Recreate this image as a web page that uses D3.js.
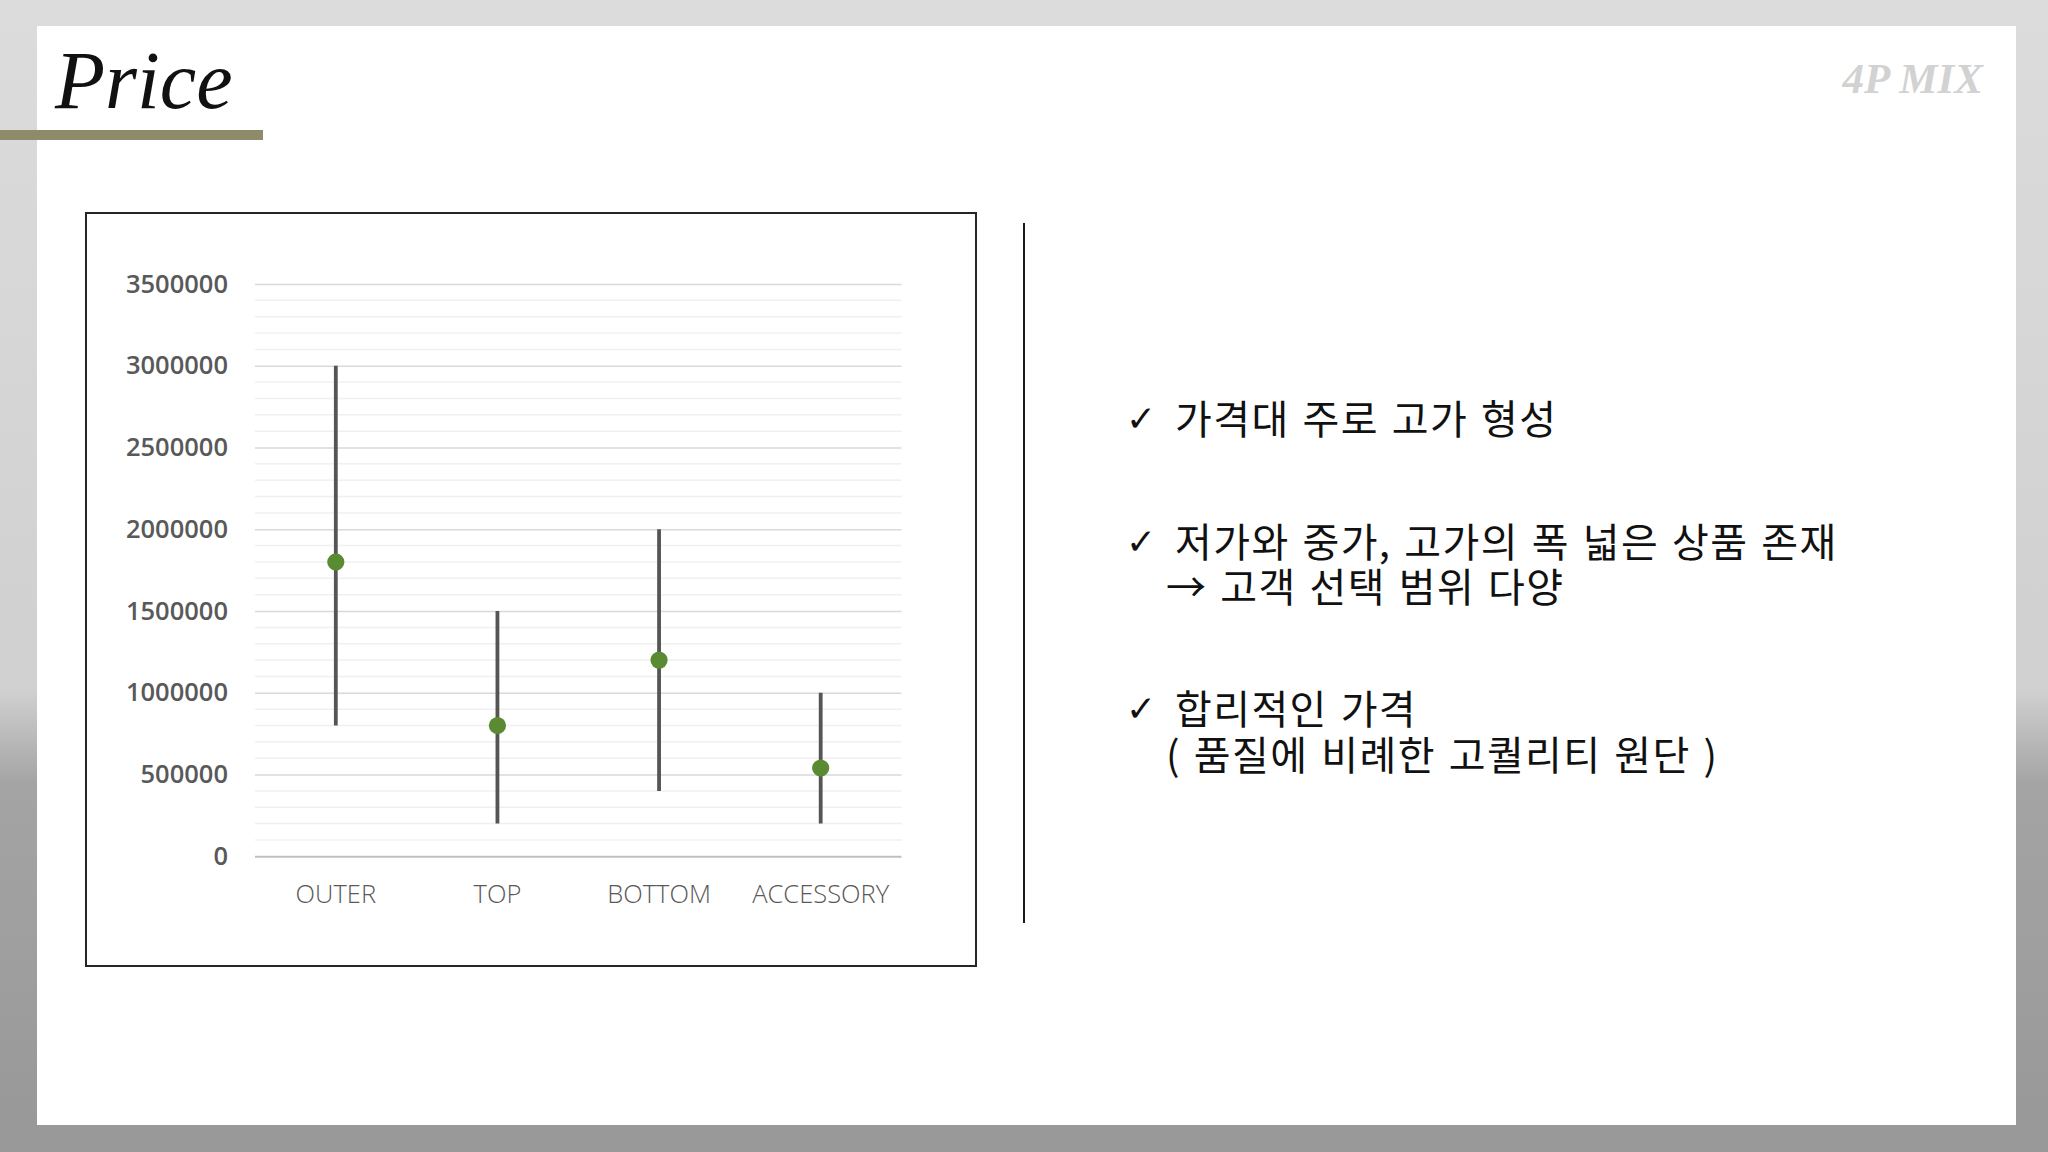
<!DOCTYPE html>
<html>
<head>
<meta charset="utf-8">
<script src="https://cdn.jsdelivr.net/npm/d3@7"></script>
<style>
  html, body { margin: 0; padding: 0; background: #fff; }
  svg { display: block; }
</style>
</head>
<body>
<svg id="chart" width="2048" height="1152"></svg>
<script>
// ---- data ----
const categories = ["OUTER", "TOP", "BOTTOM", "ACCESSORY"];
const highValues = [3000000, 1500000, 2000000, 1000000];
const lowValues  = [800000, 200000, 400000, 200000];
const midValues  = [1800000, 800000, 1200000, 540000];
const yTicks = [0, 500000, 1000000, 1500000, 2000000, 2500000, 3000000, 3500000];
const minorStep = 100000;
const bullets = [
  ["가격대 주로 고가 형성"],
  ["저가와 중가, 고가의 폭 넓은 상품 존재", "→ 고객 선택 범위 다양"],
  ["합리적인 가격", "( 품질에 비례한 고퀄리티 원단 )"]
];

const svg = d3.select("#chart");

// ---- background ----
const defs = svg.append("defs");
const grad = defs.append("linearGradient").attr("id", "bg").attr("x1", 0).attr("y1", 0).attr("x2", 0).attr("y2", 1);
grad.append("stop").attr("offset", "0").attr("stop-color", "#dcdcdc");
grad.append("stop").attr("offset", "0.6").attr("stop-color", "#d0d0d0");
grad.append("stop").attr("offset", "0.68").attr("stop-color", "#a4a4a4");
grad.append("stop").attr("offset", "1").attr("stop-color", "#989898");
svg.append("rect").attr("width", 2048).attr("height", 1152).attr("fill", "url(#bg)");
svg.append("rect").attr("x", 37).attr("y", 26).attr("width", 1979).attr("height", 1099).attr("fill", "#ffffff");

// title
svg.append("rect").attr("x", 0).attr("y", 130).attr("width", 263).attr("height", 10).attr("fill", "#8e8b6a");
svg.append("text").attr("x", 55).attr("y", 108)
  .attr("font-family", "'Liberation Serif', serif").attr("font-style", "italic")
  .attr("font-size", 82).attr("fill", "#111").text("Price");
svg.append("text").attr("x", 1983).attr("y", 93).attr("text-anchor", "end")
  .attr("font-family", "'Liberation Serif', serif").attr("font-style", "italic").attr("font-weight", "bold")
  .attr("font-size", 43).attr("fill", "#d2d2d2").text("4P MIX");

// chart frame
svg.append("rect").attr("x", 86).attr("y", 213).attr("width", 890).attr("height", 753)
  .attr("fill", "#fff").attr("stroke", "#262626").attr("stroke-width", 2);

// ---- scales ----
const y = d3.scaleLinear().domain([0, 3500000]).range([856.3, 284]);
const x = d3.scaleBand().domain(categories).range([255, 901.5]).padding(0);

// minor gridlines
const minor = d3.range(minorStep, 3500000, minorStep).filter(v => v % 500000 !== 0);
svg.append("g").selectAll("line").data(minor).join("line")
  .attr("x1", 255).attr("x2", 901.5)
  .attr("y1", d => y(d)).attr("y2", d => y(d))
  .attr("stroke", "#f0f0f0").attr("stroke-width", 1.5);

// major gridlines via axis
const yAxis = d3.axisLeft(y).tickValues(yTicks).tickSize(-(901.5 - 255)).tickFormat(d3.format("d")).tickPadding(27);
const gy = svg.append("g").attr("transform", "translate(255,0)").call(yAxis);
gy.select(".domain").remove();
gy.selectAll(".tick line").attr("stroke", d => d === 0 ? "#bfbfbf" : "#d9d9d9").attr("stroke-width", d => d === 0 ? 2 : 1.5);
gy.selectAll(".tick text")
  .attr("font-family", "'Open Sans', sans-serif").attr("font-weight", 600)
  .attr("font-size", 25.5).attr("fill", "#595959");

// x axis labels
const xAxis = d3.axisBottom(x).tickSize(0).tickPadding(0);
const gx = svg.append("g").attr("transform", "translate(0,856.3)").call(xAxis);
gx.select(".domain").remove();
gx.selectAll(".tick text")
  .attr("dy", null).attr("y", 47)
  .attr("font-family", "'Open Sans', sans-serif").attr("font-weight", 300)
  .attr("font-size", 25.5).attr("fill", "#595959");

// high-low lines
const rows = categories.map((c, i) => ({ c, hi: highValues[i], lo: lowValues[i], mid: midValues[i] }));
svg.append("g").selectAll("line").data(rows).join("line")
  .attr("x1", d => x(d.c) + x.bandwidth() / 2).attr("x2", d => x(d.c) + x.bandwidth() / 2)
  .attr("y1", d => y(d.hi)).attr("y2", d => y(d.lo))
  .attr("stroke", "#555555").attr("stroke-width", 3.8);

// mid markers
svg.append("g").selectAll("circle").data(rows).join("circle")
  .attr("cx", d => x(d.c) + x.bandwidth() / 2).attr("cy", d => y(d.mid))
  .attr("r", 8.6).attr("fill", "#5a8b32");

// divider
svg.append("line").attr("x1", 1024).attr("x2", 1024).attr("y1", 223).attr("y2", 923)
  .attr("stroke", "#1a1a1a").attr("stroke-width", 2);

// ---- bullet text (one text element per bullet, lines as tspans) ----
const lineBase = [[434], [557, 602], [724, 770]];
const tg = svg.append("g").attr("font-family", "'Noto Sans CJK KR', sans-serif").attr("fill", "#111");
bullets.forEach((lines, i) => {
  const t = tg.append("text").attr("font-size", 40).attr("font-weight", 400);
  t.append("tspan").attr("x", 1126).attr("y", lineBase[i][0] - 3)
    .attr("font-size", 36).attr("font-family", "'DejaVu Sans', sans-serif").attr("font-weight", "bold")
    .text("✓");
  lines.forEach((s, j) => {
    t.append("tspan").attr("x", j === 0 ? 1175 : 1166).attr("y", lineBase[i][j])
      .attr("letter-spacing", 1.4).attr("word-spacing", 2.5).text(s);
  });
});
</script>
</body>
</html>
